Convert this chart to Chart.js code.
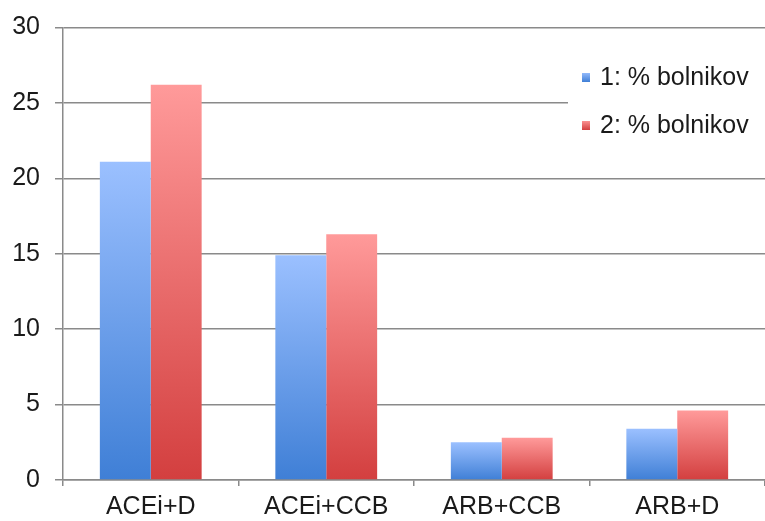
<!DOCTYPE html>
<html>
<head>
<meta charset="utf-8">
<script src="https://cdn.jsdelivr.net/npm/chart.js@4/dist/chart.umd.min.js"></script>
<style>
  html, body { margin: 0; padding: 0; background: #fff; }
  #wrap { width: 765px; height: 521px; }
</style>
</head>
<body>
<div id="wrap"><canvas id="chart"></canvas></div>
<script>
const categories = ['ACEi+D', 'ACEi+CCB', 'ARB+CCB', 'ARB+D'];
const series1 = [21.1, 14.9, 2.5, 3.4];
const series2 = [26.2, 16.3, 2.8, 4.6];
const seriesNames = ['1: % bolnikov', '2: % bolnikov'];
const yTicks = [0, 5, 10, 15, 20, 25, 30];

const FONT = '"Liberation Sans", Arial, sans-serif';

// gradient per bar: dark at the bottom, light at the top
function barGradient(light, dark) {
  return function (ctx) {
    const chart = ctx.chart;
    const y = chart.scales.y;
    if (!y || !chart.chartArea || ctx.parsed == null) return light;
    const top = y.getPixelForValue(ctx.parsed.y);
    const bottom = y.getPixelForValue(0);
    if (!isFinite(top) || top === bottom) return light;
    const g = chart.ctx.createLinearGradient(0, bottom, 0, top);
    g.addColorStop(0, dark);
    g.addColorStop(1, light);
    return g;
  };
}

// legend drawn inside the plot, top right, on a white box
const insideLegend = {
  id: 'insideLegend',
  afterDraw(chart) {
    const c = chart.ctx;
    c.save();
    c.fillStyle = '#fff';
    c.fillRect(568, 45, 197, 105);
    const swatches = [['#9bc0ff', '#3f7fd6'], ['#ff9a9a', '#d33f3f']];
    chart.data.datasets.forEach((ds, i) => {
      const cy = 77 + i * 48;
      const g = c.createLinearGradient(0, cy + 5, 0, cy - 5);
      g.addColorStop(0, swatches[i][1]);
      g.addColorStop(1, swatches[i][0]);
      c.fillStyle = g;
      c.fillRect(582, cy - 4, 8, 9);
      c.fillStyle = '#1a1a1a';
      c.font = '25px ' + FONT;
      c.textBaseline = 'middle';
      c.textAlign = 'left';
      c.fillText(ds.label, 600, cy + 1);
    });
    c.restore();
  }
};

new Chart(document.getElementById('chart'), {
  type: 'bar',
  data: {
    labels: categories,
    datasets: [
      {
        label: seriesNames[0],
        data: series1,
        backgroundColor: barGradient('#9bc0ff', '#3f7fd6')
      },
      {
        label: seriesNames[1],
        data: series2,
        backgroundColor: barGradient('#ff9a9a', '#d33f3f')
      }
    ]
  },
  options: {
    responsive: true,
    maintainAspectRatio: false,
    animation: false,
    layout: { padding: { top: -2, right: 0, left: 0, bottom: 0 } },
    categoryPercentage: 0.58,
    barPercentage: 1.0,
    plugins: {
      legend: { display: false },
      tooltip: { enabled: false }
    },
    scales: {
      x: {
        offset: true,
        grid: {
          offset: true,
          drawOnChartArea: false,
          drawTicks: true,
          tickLength: 6,
          color: '#8a8a8a',
          lineWidth: 1.5
        },
        border: { color: '#8a8a8a', width: 1.5 },
        ticks: {
          color: '#1a1a1a',
          font: { family: FONT, size: 25, lineHeight: 1 },
          padding: 9
        },
        afterFit(scale) { scale.height = 41; }
      },
      y: {
        min: 0,
        max: 30,
        afterBuildTicks(scale) { scale.ticks = yTicks.map(v => ({ value: v })); },
        grid: {
          color: '#8a8a8a',
          lineWidth: 1.5,
          tickLength: 8
        },
        border: { color: '#8a8a8a', width: 1.5 },
        ticks: {
          color: '#1a1a1a',
          font: { family: FONT, size: 25, lineHeight: 1 },
          padding: 15
        },
        afterFit(scale) { scale.width = 63; }
      }
    }
  },
  plugins: [insideLegend]
});
</script>
</body>
</html>
